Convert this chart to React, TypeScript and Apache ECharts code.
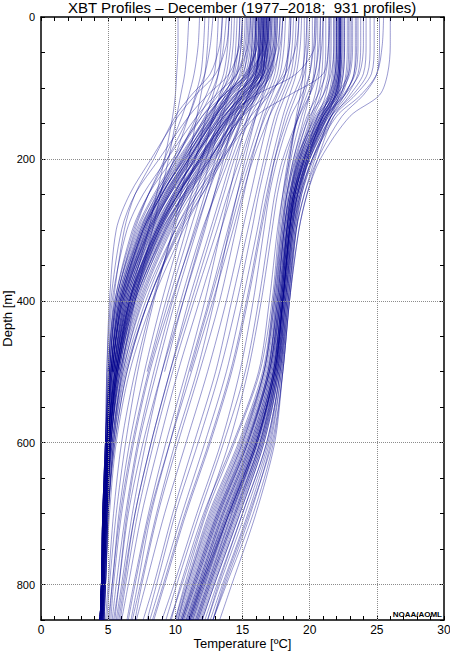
import React, { useEffect, useRef } from 'react';
import * as echarts from 'echarts';

// Depth levels (m) at which each profile's temperature (°C) was read
const DEPTHS = [0, 40, 80, 110, 140, 200, 250, 300, 400, 500, 600, 700, 800, 850];

// Cold (northern) profile family
const COLD_PROFILES: (number | null)[][] = [
  [16.8, 16.7, 16.4, 15.0, 13.6, 11.8, 10.0, 8.6, 6.6, 5.6, 5.1, 4.8, 4.6, 4.5],
  [16.5, 16.4, 15.8, 14.2, 13.0, 11.0, 9.4, 8.0, 6.2, 5.4, 5.0, 4.7, 4.5, 4.4],
  [17.0, 16.9, 16.6, 15.6, 14.2, 12.3, 10.6, 9.2, 7.0, 5.8, 5.2, 4.9, 4.7, 4.6],
  [16.2, 16.1, 15.2, 13.8, 12.6, 10.6, 9.0, 7.6, 5.9, 5.2, 4.9, 4.7, 4.5, 4.4],
  [15.6, 15.5, 15.0, 13.6, 12.4, 10.3, 8.7, 7.3, 5.7, 5.1, 4.9, 4.6, 4.5, 4.4],
  [17.2, 17.1, 16.8, 16.0, 14.8, 12.8, 11.0, 9.6, 7.4, 6.0, 5.3, 4.9, 4.7, 4.6],
  [16.6, 16.6, 16.5, 15.2, 14.0, 12.0, 10.2, 8.8, 6.8, 5.7, 5.1, 4.8, 4.6, 4.5],
  [14.8, 14.7, 14.2, 13.2, 12.0, 10.0, 8.4, 7.1, 5.6, 5.1, 4.8, 4.6, 4.5, 4.4],
  [16.9, 16.8, 16.3, 14.8, 13.4, 11.4, 9.8, 8.4, 6.4, 5.5, 5.0, 4.8, 4.6, 4.5],
  [16.4, 16.3, 16.0, 15.2, 14.4, 12.6, 10.8, 9.3, 7.2, 5.9, 5.2, 4.9, 4.7, 4.6],
  [13.8, 13.6, 13.2, 12.6, 11.8, 10.0, 8.6, 7.4, 5.8, 5.2, 4.9, 4.7, 4.5, 4.4],
  [17.4, 17.3, 16.6, 15.4, 14.0, 11.6, 9.6, 8.2, 6.3, 5.4, null, null, null, null],
  [16.0, 15.9, 15.6, 14.6, 13.4, 11.2, 9.5, 8.1, 6.1, 5.3, null, null, null, null],
  [16.7, 16.6, 16.2, 15.0, 13.8, 11.9, 10.3, 8.9, 6.9, 5.7, null, null, null, null],
  [15.2, 15.1, 14.8, 14.0, 13.0, 11.0, 9.2, 7.8, 6.0, 5.3, null, null, null, null],
  [12.8, 12.6, 12.2, 11.6, 11.0, 9.4, 8.0, 6.9, 5.5, 5.0, 4.8, 4.6, 4.5, 4.4],
  [16.3, 16.3, 16.1, 15.5, 14.6, 13.0, 11.4, 10.0, 7.8, 6.2, 5.4, 5.0, 4.8, 4.7],
  [17.6, 17.5, 17.0, 15.8, 14.2, 12.0, 10.2, 8.7, 6.6, 5.6, 5.1, 4.8, 4.6, 4.5],
  [15.8, 15.7, 15.4, 14.4, 13.2, 11.4, 9.9, 8.5, 6.5, 5.5, 5.0, 4.7, 4.6, 4.5],
  [16.6, 16.5, 15.6, 13.8, 12.8, 10.8, 9.2, 7.9, 6.0, 5.3, 4.9, 4.7, 4.5, 4.4],
  [14.4, 14.3, 14.0, 13.4, 12.6, 10.8, 9.3, 8.0, 6.2, 5.4, null, null, null, null],
  [16.9, 16.9, 16.7, 15.9, 14.9, 13.2, 11.6, 10.2, 8.0, 6.4, 5.5, 5.0, 4.8, 4.7],
  [16.1, 16.0, 15.5, 14.1, 12.9, 10.9, 9.1, 7.7, 5.9, 5.2, 4.9, 4.6, 4.5, 4.4],
  [17.1, 17.0, 16.4, 15.1, 13.9, 11.9, 10.1, 8.7, 6.7, 5.6, null, null, null, null],
  [15.4, 15.3, 14.9, 13.9, 12.9, 11.0, 9.4, 8.1, 6.3, 5.4, 5.0, 4.7, 4.6, 4.5],
  [16.5, 16.4, 16.0, 14.9, 13.7, 11.7, 10.0, 8.6, 6.5, 5.5, 5.0, 4.8, 4.6, 4.5],
  [11.8, 11.7, 11.4, 11.0, 10.5, 9.2, 8.0, 7.0, 5.6, 5.1, 4.9, 4.7, 4.5, 4.4],
  [16.8, 16.7, 16.5, 15.7, 14.5, 12.4, 10.7, 9.0, 6.9, 5.7, 5.1, 4.8, 4.6, 4.5],
  [16.2, 16.2, 15.9, 14.7, 13.3, 11.1, 9.5, 8.3, 6.4, 5.5, 5.0, 4.7, 4.6, 4.4],
  [17.0, 16.8, 15.9, 14.5, 13.3, 11.5, 9.9, 8.5, 6.6, 5.6, 5.1, 4.8, 4.6, 4.5],
  [16.7, 16.6, 16.3, 15.3, 14.1, 12.1, 10.4, 8.9, 6.8, 5.7, 5.1, 4.8, 4.6, 4.5],
  [16.4, 16.3, 15.9, 14.5, 13.1, 11.0, 9.3, 7.9, 6.1, 5.3, 4.9, 4.7, 4.5, 4.4],
  [17.3, 17.2, 16.9, 15.8, 14.6, 12.6, 10.8, 9.4, 7.1, 5.9, 5.2, 4.9, 4.7, 4.6],
  [15.9, 15.8, 15.3, 14.2, 13.0, 11.1, 9.6, 8.2, 6.3, 5.4, null, null, null, null],
  [16.6, 16.5, 16.2, 15.1, 13.9, 11.8, 10.1, 8.7, 6.7, 5.6, 5.1, 4.8, 4.6, 4.5],
  [16.0, 16.0, 15.7, 14.8, 13.7, 11.8, 10.2, 8.8, 6.7, 5.6, 5.0, 4.8, 4.6, 4.5],
  [13.2, 13.1, 12.9, 12.3, 11.6, 10.1, 8.8, 7.6, 6.0, 5.3, 5.0, 4.7, 4.6, 4.5],
  [16.8, 16.8, 16.6, 15.4, 14.1, 11.9, 10.2, 8.6, 6.5, 5.5, 5.0, 4.7, 4.6, 4.5],
  [15.0, 14.9, 14.5, 13.5, 12.3, 10.2, 8.5, 7.2, 5.6, 5.1, 4.8, 4.6, 4.5, 4.4],
  [17.8, 17.6, 16.8, 15.2, 13.6, 11.3, 9.5, 8.0, 6.1, 5.3, 4.9, 4.7, 4.5, 4.4],
  [16.3, 16.2, 16.0, 15.4, 14.8, 13.4, 12.0, 10.6, 8.3, 6.6, 5.6, 5.1, 4.8, 4.7],
  [14.0, 13.9, 13.6, 13.0, 12.2, 10.5, 9.0, 7.7, 6.0, 5.3, null, null, null, null],
  [16.9, 16.8, 16.2, 14.4, 12.9, 10.7, 8.9, 7.5, 5.8, 5.2, 4.9, 4.6, 4.5, 4.4],
  [16.5, 16.5, 16.4, 16.0, 15.2, 13.6, 12.0, 10.4, 8.0, 6.3, 5.4, 5.0, 4.8, 4.6],
  [17.5, 17.4, 17.1, 16.2, 14.9, 12.7, 10.9, 9.3, 7.0, 5.8, 5.2, 4.9, 4.7, 4.5],
  [15.7, 15.6, 15.2, 14.0, 12.8, 10.7, 9.0, 7.6, 5.9, 5.2, null, null, null, null],
  [16.1, 16.0, 15.8, 15.0, 14.0, 12.2, 10.6, 9.1, 6.9, 5.7, 5.1, 4.8, 4.6, 4.5],
  [12.2, 12.1, 11.9, 11.5, 11.0, 9.9, 8.8, 7.8, 6.1, 5.3, 5.0, 4.7, 4.5, 4.4],
  [16.7, 16.6, 15.4, 13.6, 12.4, 10.4, 8.8, 7.5, 5.8, 5.2, 4.9, 4.6, 4.5, 4.4],
  [17.1, 17.0, 16.8, 16.1, 15.0, 12.9, 11.2, 9.7, 7.5, 6.1, 5.3, 4.9, 4.7, 4.6],
  [16.3, 16.2, 15.8, 14.6, 13.5, 11.5, 9.8, 8.3, 6.4, 5.4, null, null, null, null],
  [14.6, 14.5, 14.3, 13.7, 13.0, 11.4, 9.9, 8.6, 6.6, 5.6, 5.1, 4.8, 4.6, 4.5],
  [16.8, 16.7, 16.5, 15.6, 14.3, 12.2, 10.4, 8.8, 6.6, 5.5, 5.0, 4.7, 4.5, 4.4],
  [16.0, 15.9, 15.4, 14.0, 12.7, 10.5, 8.8, 7.4, 5.7, 5.1, 4.8, 4.6, 4.5, 4.4],
  [18.0, 17.8, 17.2, 16.0, 14.6, 12.5, 10.7, 9.2, 7.0, 5.8, 5.2, 4.9, 4.7, 4.6],
  [16.6, 16.5, 16.3, 15.5, 14.5, 12.6, 11.0, 9.5, 7.3, 5.9, 5.2, 4.9, 4.7, 4.5],
  [15.3, 15.2, 14.6, 13.5, 12.5, 10.6, 9.0, 7.6, 5.9, 5.2, 4.9, 4.7, 4.5, 4.4],
  [16.4, 16.4, 16.1, 15.0, 13.6, 11.3, 9.6, 8.1, 6.2, 5.4, 5.0, 4.7, 4.5, 4.4],
  [14.0, 13.8, 13.0, 11.5, 10.2, 8.2, 6.6, 5.6, 5.1, 4.9, 4.8, 4.6, 4.5, 4.4],
  [15.0, 14.8, 14.0, 12.4, 11.0, 8.8, 7.0, 6.0, 5.2, 4.9, 4.8, 4.6, 4.5, 4.4],
  [13.5, 13.3, 12.6, 11.2, 10.0, 8.4, 7.0, 6.2, 5.4, 5.0, null, null, null, null],
  [15.6, 15.4, 14.6, 13.0, 11.6, 9.4, 7.6, 6.4, 5.3, 5.0, 4.8, 4.6, 4.5, 4.4],
  [16.2, 16.1, 15.3, 13.6, 12.0, 9.8, 8.0, 6.8, 5.5, 5.0, null, null, null, null],
];

// Warm (subtropical) profile family
const WARM_PROFILES: (number | null)[][] = [
  [22.2, 22.2, 22.1, 21.8, 20.8, 19.4, 18.8, 18.5, 18.0, 17.3, 15.8, 13.8, 11.9, 11.0],
  [22.4, 22.4, 22.3, 22.0, 21.2, 19.8, 19.0, 18.6, 18.1, 17.5, 16.2, 14.2, 12.3, 11.4],
  [22.0, 22.0, 21.9, 21.4, 20.4, 19.1, 18.6, 18.3, 17.8, 17.0, 15.4, 13.3, 11.5, 10.6],
  [22.6, 22.6, 22.5, 22.2, 21.6, 20.2, 19.3, 18.8, 18.3, 17.7, 16.5, 14.6, 12.7, 11.8],
  [21.8, 21.8, 21.6, 21.0, 20.0, 18.9, 18.4, 18.1, 17.6, 16.8, 15.1, 13.0, 11.2, 10.4],
  [23.8, 23.8, 23.6, 22.8, 21.6, 20.0, 19.1, 18.6, 18.0, 17.4, 16.0, 14.0, 12.1, 11.2],
  [24.8, 24.8, 24.6, 23.4, 21.8, 20.3, 19.4, 18.9, 18.3, 17.8, 16.8, 15.0, 13.1, 12.2],
  [20.6, 20.6, 20.4, 20.0, 19.4, 18.6, 18.2, 17.9, 17.4, 16.6, 14.8, 12.6, 10.9, 10.2],
  [21.2, 21.2, 21.1, 20.8, 20.2, 19.2, 18.6, 18.2, 17.7, 17.0, 15.5, 13.4, 11.6, 10.7],
  [23.0, 23.0, 22.9, 22.4, 21.4, 19.9, 19.0, 18.6, 18.1, 17.5, 16.1, 14.2, 12.4, 11.5],
  [22.3, 22.3, 22.3, 22.1, 21.5, 20.4, 19.6, 19.0, 18.4, 17.9, 17.0, 15.4, 13.5, 12.6],
  [24.2, 24.2, 24.0, 23.0, 21.8, 20.6, 19.8, 19.2, 18.5, 18.0, 17.3, 15.8, 13.8, 12.8],
  [22.1, 22.1, 22.0, 21.6, 20.6, 19.2, 18.6, 18.3, 17.9, 17.2, 15.7, 13.6, 11.8, 10.9],
  [21.6, 21.6, 21.5, 21.2, 20.6, 19.6, 18.9, 18.5, 18.0, 17.4, 16.0, 14.0, 12.2, 11.3],
  [25.2, 25.2, 25.0, 24.0, 22.4, 20.6, 19.6, 19.0, 18.4, 17.8, 16.8, 15.0, 13.2, 12.4],
  [22.5, 22.5, 22.4, 22.0, 21.0, 19.6, 18.9, 18.5, 18.0, 17.4, 16.0, 13.9, 12.0, 11.1],
  [20.2, 20.2, 20.0, 19.6, 19.1, 18.4, 18.0, 17.7, 17.2, 16.3, 14.4, 12.3, 10.7, 10.0],
  [23.4, 23.4, 23.3, 22.6, 21.4, 19.8, 19.0, 18.5, 18.0, 17.5, 16.3, 14.4, 12.5, 11.6],
  [22.2, 22.2, 22.2, 21.9, 21.0, 19.5, 18.8, 18.4, 17.9, 17.3, 15.9, 13.9, 12.0, 11.1],
  [26.0, 26.0, 25.8, 25.2, 23.0, 20.8, 19.8, 19.2, 18.5, 18.0, 17.2, 15.5, 13.6, 12.8],
  [21.9, 21.9, 21.8, 21.5, 20.8, 19.4, 18.7, 18.3, 17.8, 17.1, 15.6, 13.5, 11.7, 10.8],
  [22.8, 22.8, 22.7, 22.3, 21.2, 19.7, 18.9, 18.5, 18.0, 17.4, 16.1, 14.1, null, null],
  [22.3, 22.3, 22.2, 21.9, 21.3, 20.0, 19.2, 18.7, 18.2, 17.6, 16.4, 14.5, 12.6, 11.7],
  [24.5, 24.5, 24.3, 23.2, 21.6, 20.0, 19.1, 18.7, 18.1, 17.6, 16.5, 14.7, 12.8, 11.9],
  [21.4, 21.4, 21.2, 20.6, 19.8, 18.8, 18.3, 18.0, 17.5, 16.9, 15.3, 13.2, 11.4, 10.5],
  [22.2, 22.2, 22.1, 21.7, 20.9, 19.5, 18.8, 18.4, 17.9, 17.3, 15.9, 13.8, 11.9, 11.0],
  [19.6, 19.6, 19.5, 19.3, 19.0, 18.5, 18.1, 17.8, 17.3, 16.6, 15.0, 12.9, 11.1, 10.3],
  [23.2, 23.2, 23.0, 22.2, 21.0, 19.6, 18.9, 18.5, 18.0, 17.4, 16.1, 14.0, 12.1, 11.2],
  [22.2, 22.2, 22.2, 22.0, 21.1, 19.7, 18.9, 18.5, 18.0, 17.4, 16.0, 14.0, 12.0, 11.1],
  [22.0, 22.0, 21.9, 21.6, 20.7, 19.3, 18.7, 18.3, 17.8, 17.2, 15.7, 13.6, 11.8, 10.9],
  [22.4, 22.4, 22.3, 21.9, 21.0, 19.6, 18.8, 18.4, 17.9, 17.3, 16.1, 14.1, 12.2, 11.3],
  [23.6, 23.6, 23.4, 22.5, 21.3, 19.9, 19.1, 18.6, 18.1, 17.6, 16.4, 14.5, 12.6, 11.7],
  [21.0, 21.0, 20.9, 20.6, 20.1, 19.1, 18.5, 18.1, 17.6, 16.9, 15.4, 13.3, 11.5, 10.6],
  [22.3, 22.3, 22.2, 21.8, 20.9, 19.5, 18.8, 18.4, 17.9, 17.3, 15.8, 13.7, 11.9, 11.0],
  [20.8, 20.8, 20.7, 20.4, 19.9, 19.0, 18.5, 18.1, 17.5, 16.7, 15.0, 12.8, 11.0, 10.2],
  [22.2, 22.2, 22.1, 21.7, 20.6, 19.2, 18.5, 18.1, 17.6, 16.9, 15.2, 13.1, 11.3, 10.5],
  [24.0, 24.0, 23.7, 22.6, 21.2, 19.7, 18.9, 18.5, 18.0, 17.5, 16.3, 14.4, 12.5, 11.6],
  [22.6, 22.6, 22.5, 22.1, 21.2, 19.8, 19.1, 18.7, 18.2, 17.7, 16.6, 14.8, 12.9, 12.0],
  [21.5, 21.5, 21.4, 21.0, 20.3, 19.3, 18.7, 18.3, 17.8, 17.1, 15.6, 13.5, 11.7, 10.8],
  [22.9, 22.9, 22.8, 22.3, 21.3, 19.9, 19.2, 18.8, 18.3, 17.8, 16.9, 15.2, 13.3, 12.4],
  [23.1, 23.1, 22.9, 22.0, 20.8, 19.3, 18.6, 18.2, 17.7, 17.0, 15.3, 13.1, 11.3, 10.4],
  [22.1, 22.1, 22.0, 21.7, 21.0, 19.8, 19.1, 18.7, 18.2, 17.6, 16.3, 14.3, 12.4, 11.5],
  [25.5, 25.4, 25.0, 23.8, 22.0, 20.2, 19.3, 18.8, 18.2, 17.7, 16.6, 14.8, 12.9, 12.0],
  [21.8, 21.8, 21.7, 21.4, 20.9, 19.9, 19.3, 18.9, 18.4, 17.9, 17.1, 15.6, 13.7, 12.8],
  [22.3, 22.3, 22.2, 21.9, 21.1, 19.6, 18.8, 18.3, 17.7, 17.0, 15.4, 13.2, 11.4, 10.5],
  [20.4, 20.4, 20.3, 20.0, 19.6, 18.8, 18.3, 18.0, 17.4, 16.6, 14.9, 12.7, 10.9, 10.1],
  [23.5, 23.5, 23.3, 22.6, 21.6, 20.2, 19.4, 19.0, 18.5, 18.0, 17.4, 16.0, 14.2, 13.3],
  [22.0, 22.0, 21.9, 21.5, 20.5, 19.0, 18.3, 17.9, 17.3, 16.5, 14.7, 12.5, 10.8, 10.0],
  [19.8, 19.8, 19.7, 19.5, 19.1, 18.5, 18.0, 17.6, 17.0, 16.2, 14.3, 12.1, 10.4, 9.7],
];

// Profiles lying between the two families
const MIXED_PROFILES: (number | null)[][] = [
  [17.5, 17.4, 17.0, 16.2, 15.4, 14.2, 13.4, 12.6, 11.0, 9.6, 8.2, 7.0, 6.2, 5.8],
  [16.0, 15.9, 15.5, 14.8, 14.2, 13.2, 12.4, 11.6, 10.0, 8.6, 7.3, 6.4, 5.8, 5.5],
  [18.5, 18.4, 18.2, 17.6, 17.0, 16.2, 15.6, 15.0, 13.8, 12.4, 10.8, 9.2, 7.8, 7.1],
  [19.4, 19.3, 19.0, 18.5, 18.0, 17.2, 16.6, 16.1, 15.0, 13.8, 12.2, 10.5, 8.9, 8.1],
  [15.0, 14.9, 14.6, 14.0, 13.5, 12.6, 11.9, 11.1, 9.5, 8.0, 6.8, 5.9, 5.3, 5.1],
  [17.0, 16.9, 16.6, 16.0, 15.4, 14.6, 14.0, 13.4, 12.2, 10.8, 9.3, 8.0, 6.9, 6.4],
  [20.4, 20.3, 20.0, 19.4, 18.6, 17.6, 17.0, 16.6, 15.8, 14.8, 13.4, 11.6, 9.9, 9.0],
  [12.5, 12.4, 12.2, 11.9, 11.6, 11.0, 10.4, 9.8, 8.4, 7.2, 6.3, 5.6, 5.1, 4.9],
  [18.0, 17.9, 17.6, 17.0, 16.4, 15.4, 14.6, 13.9, 12.5, 11.0, 9.6, 8.2, 7.2, 6.7],
  [16.6, 16.5, 16.2, 15.6, 15.0, 14.0, 13.0, 12.0, 10.4, 9.0, 7.8, 6.8, 6.0, 5.6],
  [19.0, 18.9, 18.6, 18.0, 17.4, 16.6, 16.0, 15.4, 14.2, 13.0, 11.4, 9.8, 8.4, 7.6],
  [14.2, 14.1, 13.8, 13.3, 12.8, 12.0, 11.2, 10.5, 9.0, 7.7, 6.6, 5.8, 5.3, 5.0],
  [20.8, 20.7, 20.4, 19.8, 19.2, 18.2, 17.6, 17.2, 16.4, 15.4, 14.0, 12.2, 10.5, 9.6],
  [17.8, 17.7, 17.4, 16.8, 16.0, 15.0, 14.2, 13.4, 11.8, 10.2, 8.8, 7.5, 6.5, 6.0],
  [15.5, 15.4, 15.1, 14.6, 14.0, 13.0, 12.2, 11.4, 9.8, 8.4, 7.2, 6.3, 5.6, 5.3],
  [10.2, 10.2, 10.1, 10.0, 9.8, 9.2, 8.6, 8.0, 6.6, 5.7, 5.2, 4.9, 4.7, 4.6],
  [11.0, 10.9, 10.7, 10.4, 10.1, 9.5, 8.9, 8.3, 7.0, 6.0, 5.4, 5.0, 4.8, 4.7],
  [18.8, 18.7, 18.4, 17.8, 17.0, 15.8, 15.0, 14.3, 12.8, 11.2, 9.6, 8.1, 7.0, 6.5],
  [17.2, 17.1, 16.9, 16.5, 16.0, 15.2, 14.6, 14.0, 12.9, 11.6, 10.0, 8.6, 7.4, 6.8],
  [16.4, 16.3, 16.0, 15.4, 14.6, 13.4, 12.4, 11.5, 9.7, 8.1, 6.9, 6.0, 5.4, 5.2],
  [19.8, 19.7, 19.4, 18.8, 18.2, 17.4, 16.9, 16.4, 15.4, 14.2, 12.6, 10.8, 9.2, 8.4],
  [15.8, 15.7, 15.5, 15.0, 14.4, 13.6, 12.9, 12.2, 10.6, 9.0, 7.6, 6.5, 5.8, 5.4],
  [18.2, 18.1, 17.8, 17.2, 16.6, 15.7, 15.1, 14.5, 13.3, 11.8, 10.2, 8.7, 7.5, 7.0],
  [13.5, 13.4, 13.2, 12.8, 12.3, 11.5, 10.7, 9.9, 8.3, 7.0, 6.0, 5.4, 5.0, 4.8],
  [21.0, 20.9, 20.6, 20.0, 19.2, 18.0, 17.4, 17.0, 16.2, 15.2, 13.6, 11.8, 10.1, 9.3],
  [17.6, 17.5, 17.2, 16.6, 15.9, 14.8, 13.9, 13.1, 11.4, 9.8, 8.4, 7.2, 6.3, 5.9],
  [19.2, 19.1, 18.8, 18.2, 17.6, 16.8, 16.2, 15.7, 14.6, 13.3, 11.7, 10.0, 8.6, 7.9],
  [16.9, 16.8, 16.5, 15.8, 15.0, 13.8, 12.9, 12.1, 10.6, 9.2, null, null, null, null],
  [18.6, 18.5, 18.2, 17.5, 16.7, 15.6, 14.8, 14.1, 12.6, 11.1, null, null, null, null],
  [14.8, 14.7, 14.4, 13.9, 13.3, 12.3, 11.5, 10.8, 9.3, 7.9, null, null, null, null],
  [20.0, 19.9, 19.6, 19.0, 18.4, 17.4, 16.8, 16.3, 15.3, 14.1, 12.5, 10.7, 9.1, 8.3],
  [17.4, 17.3, 17.0, 16.4, 15.6, 14.4, 13.6, 12.8, 11.2, 9.6, 8.2, 7.0, 6.1, 5.7],
  [20.5, 20.4, 19.0, 16.0, 14.0, 11.8, 10.2, 8.8, 6.8, 5.7, 5.1, 4.8, 4.6, 4.5],
  [19.2, 19.0, 18.2, 16.8, 15.0, 12.5, 10.6, 9.0, 6.8, 5.6, 5.1, 4.8, 4.6, 4.5],
  [21.5, 21.4, 21.0, 18.5, 16.0, 13.5, 11.8, 10.3, 8.0, 6.4, 5.5, 5.0, 4.8, 4.6],
  [18.6, 18.5, 18.0, 17.0, 15.6, 13.4, 11.6, 10.0, 7.6, 6.1, 5.3, 4.9, 4.7, 4.6],
];

const GRID_TEMPS = [5, 10, 15, 20, 25];
const GRID_DEPTHS = [200, 400, 600, 800];

const TITLE = 'XBT Profiles \u2013 December (1977\u20132018;  931 profiles)';
const FONT = 'Liberation Sans, Arial, Helvetica, sans-serif';

function ticks() {
  return { show: true, inside: true, length: 4, lineStyle: { color: '#000', width: 1 } };
}

export default function App() {
  const ref = useRef<HTMLDivElement>(null);

  useEffect(() => {
    if (!ref.current) return;
    const chart = echarts.init(ref.current, undefined, { renderer: 'svg' });

    const profiles = [...COLD_PROFILES, ...WARM_PROFILES, ...MIXED_PROFILES];
    const profileSeries = profiles.map((p, i) => ({
      type: 'line',
      name: 'profile' + i,
      xAxisIndex: 0,
      yAxisIndex: 0,
      data: p
        .map((t, k) => (t == null ? null : [t, DEPTHS[k]]))
        .filter((v) => v !== null),
      showSymbol: false,
      symbol: 'none',
      smooth: 0.3,
      silent: true,
      z: 3,
      lineStyle: { color: 'rgba(0,0,140,0.4)', width: 1 },
    }));

    const gridSeries = {
      type: 'line',
      name: 'grid',
      xAxisIndex: 0,
      yAxisIndex: 0,
      data: [[0, 0]],
      symbol: 'none',
      lineStyle: { opacity: 0 },
      silent: true,
      z: 1,
      markLine: {
        silent: true,
        symbol: 'none',
        label: { show: false },
        lineStyle: { type: 'dotted', color: '#8c8c8c', width: 1 },
        data: [
          ...GRID_TEMPS.map((t) => ({ xAxis: t })),
          ...GRID_DEPTHS.map((d) => ({ yAxis: d })),
        ],
      },
    };

    chart.setOption({
      animation: false,
      backgroundColor: '#fff',
      title: {
        text: TITLE,
        left: 68,
        top: 0,
        padding: 0,
        textStyle: { fontFamily: FONT, fontSize: 15, fontWeight: 'normal', color: '#000' },
      },
      grid: {
        left: 41,
        right: 6,
        top: 17,
        bottom: 33,
        containLabel: false,
        outerBoundsMode: 'none',
      },
      xAxis: [
        {
          type: 'value',
          position: 'bottom',
          min: 0,
          max: 30,
          interval: 1,
          name: 'Temperature [\u00baC]',
          nameLocation: 'middle',
          nameGap: 17,
          nameMoveOverlap: false,
          nameTextStyle: { fontFamily: FONT, fontSize: 13, color: '#000' },
          axisLine: { show: true, onZero: false, lineStyle: { color: '#000', width: 1.5 } },
          axisTick: ticks(),
          splitLine: { show: false },
          axisLabel: {
            fontFamily: FONT,
            fontSize: 12,
            color: '#000',
            margin: 4,
            formatter: (v: number) => (v % 5 === 0 ? String(v) : ''),
          },
        },
        {
          type: 'value',
          position: 'top',
          min: 0,
          max: 30,
          interval: 1,
          axisLine: { show: true, onZero: false, lineStyle: { color: '#000', width: 1.5 } },
          axisTick: ticks(),
          axisLabel: { show: false },
          splitLine: { show: false },
        },
      ],
      yAxis: [
        {
          type: 'value',
          position: 'left',
          inverse: true,
          min: 0,
          max: 850,
          interval: 50,
          name: 'Depth [m]',
          nameLocation: 'middle',
          nameGap: 27,
          nameMoveOverlap: false,
          nameTextStyle: { fontFamily: FONT, fontSize: 13, color: '#000' },
          axisLine: { show: true, onZero: false, lineStyle: { color: '#000', width: 1.5 } },
          axisTick: ticks(),
          splitLine: { show: false },
          axisLabel: {
            fontFamily: FONT,
            fontSize: 11,
            color: '#000',
            margin: 6,
            formatter: (v: number) => (v % 200 === 0 && v <= 800 ? String(v) : ''),
          },
        },
        {
          type: 'value',
          position: 'right',
          inverse: true,
          min: 0,
          max: 850,
          interval: 50,
          axisLine: { show: true, onZero: false, lineStyle: { color: '#000', width: 1.5 } },
          axisTick: ticks(),
          axisLabel: { show: false },
          splitLine: { show: false },
        },
      ],
      graphic: [
        {
          type: 'text',
          right: 8,
          bottom: 35,
          z: 100,
          style: {
            text: 'NOAA/AOML',
            fontFamily: FONT,
            fontSize: 8,
            fontWeight: 'bold',
            fill: '#000',
          },
        },
      ],
      series: [gridSeries, ...profileSeries],
    });

    return () => chart.dispose();
  }, []);

  return (
    <div
      ref={ref}
      style={{ position: 'fixed', left: 0, top: 0, width: 450, height: 653, background: '#fff' }}
    />
  );
}
